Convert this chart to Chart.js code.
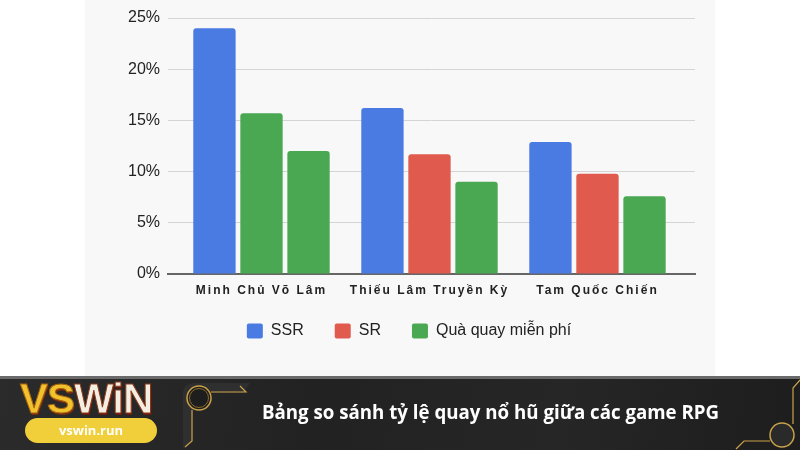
<!DOCTYPE html>
<html>
<head>
<meta charset="utf-8">
<script src="https://cdn.jsdelivr.net/npm/chart.js@4.4.1/dist/chart.umd.min.js"></script>
<style>
  html, body { margin: 0; padding: 0; }
  body { width: 800px; height: 450px; position: relative; overflow: hidden; background: #fff; font-family: "Liberation Sans", Arial, sans-serif; }
  #panel { position: absolute; left: 85px; top: 0; width: 630px; height: 376px; background: #f8f8f8; }
  #banner { position: absolute; left: 0; top: 376px; width: 800px; height: 74px;
    background: linear-gradient(100deg, #2b2b2b 0%, #222 40%, #262626 70%, #1d1d1d 100%);
    border-top: 3px solid #6a6a6a; box-sizing: border-box; }
  #logo { position: absolute; left: 20px; top: 379px; width: 140px; height: 40px;
    font-family: "Liberation Sans", Arial, sans-serif; font-weight: 900; font-size: 42px; line-height: 40px; letter-spacing: -1px; }
  #logo .vs { color: #f2c12e; -webkit-text-stroke: 1px #a8650f; text-shadow: 1px 2px 0 #7a2a10; }
  #logo .win { color: #f4eee2; -webkit-text-stroke: 1px #8a3a1a; text-shadow: 1px 2px 0 #6a1a0c; }
  #pill { position: absolute; left: 25px; top: 418px; width: 132px; height: 25px; border-radius: 13px;
    background: #f1cf3a; color: #fff; font-family: "Open Sans", sans-serif; font-weight: 700; font-size: 13px;
    line-height: 25px; text-align: center; }
  #title { position: absolute; left: 262px; top: 399px; color: #fff; font-family: "Open Sans", "Noto Sans", sans-serif;
    font-weight: 700; font-size: 18.7px; line-height: 26px; white-space: nowrap; }
  svg { position: absolute; left: 0; top: 0; }
</style>
</head>
<body>
<div id="panel"><canvas id="chart" width="630" height="376"></canvas></div>
<div id="banner"></div>
<svg width="800" height="450" viewBox="0 0 800 450">
  <path d="M183 448 L183 394 Q183 383 195 383 L250 383 L243 393 L197 393 L193 397 L193 441 L185 448 Z" fill="#2f2f2f"/>
  <circle cx="199" cy="398" r="12" fill="#1e1e1e" stroke="#c9a24a" stroke-width="1.5"/>
  <circle cx="199" cy="398" r="9.5" fill="none" stroke="#8a6a2a" stroke-width="1"/>
  <path d="M211 392 L246 392 L240 386" fill="none" stroke="#c9a24a" stroke-width="1.2"/>
  <path d="M192 410 L192 441 L185 447" fill="none" stroke="#c9a24a" stroke-width="1.2"/>
  <path d="M800 380 L793 388 L793 424" fill="none" stroke="#c9a24a" stroke-width="1.2"/>
  <circle cx="782" cy="435" r="12" fill="#2a2a2a" stroke="#c9a24a" stroke-width="1.5"/>
  <path d="M770 441 L744 441 L736 449" fill="none" stroke="#c9a24a" stroke-width="1.2"/>
</svg>
<div id="logo"><span class="vs">VS</span><span class="win">WiN</span></div>
<div id="pill">vswin.run</div>
<div id="title">Bảng so sánh tỷ lệ quay nổ hũ giữa các game RPG</div>

<script>
const games = ['Minh Chủ Võ Lâm', 'Thiếu Lâm Truyền Kỳ', 'Tam Quốc Chiến'];
const seriesNames = ['SSR', 'SR', 'Quà quay miễn phí'];
const ssrValues = [24, 16.2, 12.9];
const srValues = [15.7, 11.7, 9.8];
const freeValues = [12, 9, 7.6];
const yTicks = [0, 5, 10, 15, 20, 25];

const BLUE = '#4a7be3';
const RED = '#e05a4e';
const GREEN = '#4aa853';
// the first game's SR bar is green in the source chart
const srColors = [GREEN, RED, RED];
const legendColors = [BLUE, RED, GREEN];

// letter-spaced bold category labels, not clipped to the (short) axis box
const spacedLabels = {
  id: 'spacedLabels',
  afterLayout(chart) {
    const xs = chart.scales.x;
    if (xs._spaced) return;
    const orig = xs.drawLabels;
    xs._computeLabelArea = () => undefined;
    xs.drawLabels = function (area) {
      const ctx = this.ctx;
      ctx.save();
      ctx.letterSpacing = '2px';
      orig.call(this, area);
      ctx.restore();
    };
    xs._spaced = true;
  }
};

new Chart(document.getElementById('chart'), {
  type: 'bar',
  data: {
    labels: games,
    datasets: [
      { label: seriesNames[0], data: ssrValues, backgroundColor: BLUE },
      { label: seriesNames[1], data: srValues, backgroundColor: srColors },
      { label: seriesNames[2], data: freeValues, backgroundColor: GREEN }
    ]
  },
  options: {
    responsive: false,
    animation: false,
    layout: { padding: { top: 18, right: 20, bottom: 27, left: 38 } },
    datasets: {
      bar: { categoryPercentage: 0.84, barPercentage: 0.9, borderRadius: 3 }
    },
    scales: {
      x: {
        grid: { display: false, drawTicks: false },
        border: { display: true, color: '#666', width: 2 },
        ticks: { color: '#222', padding: 9, font: { family: '"Liberation Sans", Arial', size: 12, weight: 'bold' } },
        afterFit: s => { s.height = 18; },
        // groups sit a little inside the gridlines, as in the source
        afterBuildTicks: s => { s._startValue = -0.5565; s._valueRange = 3.137; }
      },
      y: {
        min: 0, max: 25,
        afterBuildTicks: s => { s.ticks = yTicks.map(v => ({ value: v })); },
        grid: { color: '#d4d4d4', lineWidth: 1, drawTicks: false },
        border: { display: false },
        ticks: { color: '#222', padding: 8, font: { family: '"Liberation Sans", Arial', size: 16 }, callback: v => v + '%' },
        afterFit: s => { s.width = 45; }
      }
    },
    plugins: {
      tooltip: { enabled: false },
      legend: {
        position: 'bottom',
        labels: {
          boxWidth: 16, boxHeight: 15, padding: 31, useBorderRadius: true, borderRadius: 2,
          color: '#222', font: { family: '"Liberation Sans", Arial', size: 16 },
          generateLabels: chart => Chart.defaults.plugins.legend.labels.generateLabels(chart)
            .map((item, i) => Object.assign(item, { fillStyle: legendColors[i], strokeStyle: legendColors[i], lineWidth: 0 }))
        }
      }
    }
  },
  plugins: [spacedLabels]
});
</script>
</body>
</html>
